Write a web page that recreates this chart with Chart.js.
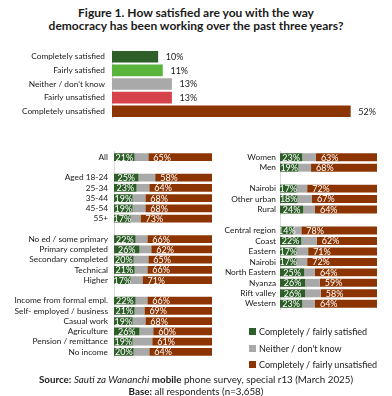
<!DOCTYPE html>
<html>
<head>
<meta charset="utf-8">
<script src="https://cdn.jsdelivr.net/npm/chart.js"></script>
<style>
  body { margin: 0; background: #fff; }
  #wrap { position: relative; width: 392px; height: 396px; font-family: Lato, 'Open Sans', sans-serif; color: #1a1a1a; }
  canvas { position: absolute; }
  #title { position: absolute; left: 0; top: 7px; width: 392px; text-align: center; font-weight: bold; font-size: 12px; line-height: 12.5px; }
  #legend { position: absolute; left: 249px; top: 326px; font-size: 9px; }
  #legend div { height: 16.5px; line-height: 11px; white-space: nowrap; }
  #legend span.box { display: inline-block; width: 7px; height: 7px; margin-right: 3px; }
  #source { position: absolute; left: 0; top: 373px; width: 392px; text-align: center; font-size: 9.8px; line-height: 12px; }
</style>
</head>
<body>
<div id="wrap">
  <div id="title">Figure 1. How satisfied are you with the way<br>democracy has been working over the past three years?</div>
  <canvas id="topChart" width="392" height="92" style="left:0;top:38px"></canvas>
  <canvas id="leftChart" width="213" height="227" style="left:0;top:141px"></canvas>
  <canvas id="rightChart" width="208" height="175" style="left:170px;top:143px"></canvas>
  <div id="legend">
    <div><span class="box" style="background:#2f5f28"></span>Completely / fairly satisfied</div>
    <div><span class="box" style="background:#a9a9a9"></span>Neither / don't know</div>
    <div><span class="box" style="background:#8c3503"></span>Completely / fairly unsatisfied</div>
  </div>
  <div id="source"><b>Source:</b> <i>Sauti za Wananchi</i> <b>mobile</b> phone survey, special r13 (March 2025)<br><b>Base:</b> all respondents (n=3,658)</div>
</div>
<script>
// overall answers
const topLabels = ['Completely satisfied', 'Fairly satisfied', "Neither / don't know", 'Fairly unsatisfied', 'Completely unsatisfied'];
const topValues = [10, 11, 13, 13, 52];
const topColors = ['#2f5f28', '#58b43a', '#a9a9a9', '#d6434b', '#8c3503'];

// left panel: age, education, income (blank rows are gaps)
const leftLabels = ['All', '', 'Aged 18-24', '25-34', '35-44', '45-54', '55+', '',
  'No ed / some primary', 'Primary completed', 'Secondary completed', 'Technical', 'Higher', '',
  'Income from formal empl.', 'Self- employed / business', 'Casual work', 'Agriculture', 'Pension / remittance', 'No income'];
const leftSatisfied = [21, null, 25, 23, 19, 19, 17, null, 22, 26, 20, 21, 17, null, 22, 21, 19, 26, 19, 20];
const leftUnsatisfied = [65, null, 58, 64, 68, 68, 73, null, 66, 62, 65, 66, 71, null, 66, 69, 68, 60, 61, 64];

// right panel: gender, location, region
const rightLabels = ['Women', 'Men', '', 'Nairobi', 'Other urban', 'Rural', '',
  'Central region', 'Coast', 'Eastern', 'Nairobi', 'North Eastern', 'Nyanza', 'Rift valley', 'Western'];
const rightSatisfied = [23, 19, null, 17, 18, 24, null, 14, 22, 17, 17, 25, 26, 26, 23];
const rightUnsatisfied = [63, 68, null, 72, 67, 64, null, 78, 62, 71, 72, 64, 59, 58, 64];

const GREEN = '#2f5f28', GREY = '#a9a9a9', BROWN = '#8c3503';
const FONT = "Lato, 'Open Sans', sans-serif";

function neither(sat, unsat) {
  return sat.map((s, i) => s == null ? null : 100 - s - unsat[i]);
}

// value labels: white inside the stacked bars, dark after the top bars
const valueLabels = {
  id: 'valueLabels',
  afterDatasetsDraw(chart) {
    const ctx = chart.ctx;
    const mode = chart.options.plugins.valueLabels.mode;
    ctx.save();
    ctx.font = '9px ' + FONT;
    ctx.textBaseline = 'middle';
    chart.data.datasets.forEach((ds, di) => {
      const meta = chart.getDatasetMeta(di);
      meta.data.forEach((bar, i) => {
        const v = ds.data[i];
        if (v == null) return;
        const txt = v + '%';
        if (mode === 'outside') {
          ctx.fillStyle = '#1a1a1a';
          ctx.textAlign = 'left';
          ctx.fillText(txt, bar.x + 8, bar.y + 0.5);
        } else if (di === 0) {
          ctx.fillStyle = '#fff';
          ctx.textAlign = 'center';
          ctx.fillText(txt, (bar.base + bar.x) / 2, bar.y + 0.5);
        } else if (di === 2) {
          ctx.fillStyle = '#fff';
          ctx.textAlign = 'left';
          ctx.fillText(txt, bar.base + 5, bar.y + 0.5);
        }
      });
    });
    ctx.restore();
  }
};

function yAxis(width, pad) {
  return {
    stacked: true,
    grid: { display: false, drawTicks: false },
    border: { display: true, color: '#d9d9d9' },
    ticks: { color: '#1a1a1a', padding: pad, autoSkip: false, font: { family: FONT, size: 8.3 } },
    afterFit(scale) { scale.width = width; }
  };
}

new Chart(document.getElementById('topChart'), {
  type: 'bar',
  data: {
    labels: topLabels,
    datasets: [{ data: topValues, backgroundColor: topColors, barThickness: 11 }]
  },
  options: {
    indexAxis: 'y',
    responsive: false,
    animation: false,
    layout: { padding: { right: 5 } },
    scales: {
      x: { display: false, min: 0, max: 60 },
      y: yAxis(112, 7)
    },
    plugins: { legend: { display: false }, tooltip: { enabled: false }, valueLabels: { mode: 'outside' } }
  },
  plugins: [valueLabels]
});

function panel(id, labels, sat, unsat, yWidth, pad) {
  new Chart(document.getElementById(id), {
    type: 'bar',
    data: {
      labels: labels,
      datasets: [
        { data: sat, backgroundColor: GREEN },
        { data: neither(sat, unsat), backgroundColor: GREY },
        { data: unsat, backgroundColor: BROWN }
      ]
    },
    options: {
      indexAxis: 'y',
      responsive: false,
      animation: false,
      datasets: { bar: { categoryPercentage: 1, barPercentage: 0.76 } },
      layout: { padding: { right: 1 } },
      scales: {
        x: { display: false, stacked: true, min: 0, max: 100 },
        y: yAxis(yWidth, pad)
      },
      plugins: { legend: { display: false }, tooltip: { enabled: false }, valueLabels: { mode: 'inside' } }
    },
    plugins: [valueLabels]
  });
}

panel('leftChart', leftLabels, leftSatisfied, leftUnsatisfied, 114, 6);
panel('rightChart', rightLabels, rightSatisfied, rightUnsatisfied, 110, 4);
</script>
</body>
</html>
